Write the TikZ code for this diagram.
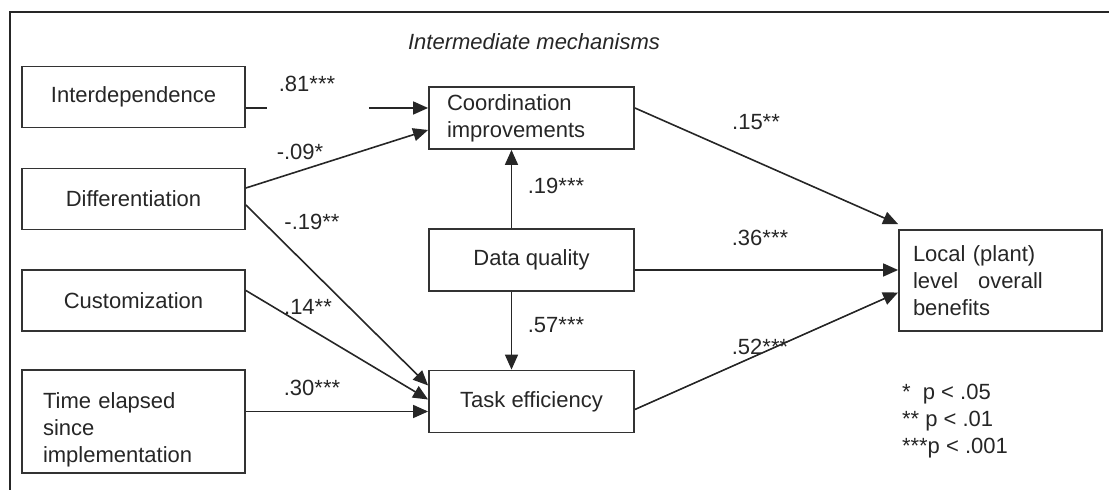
\documentclass[tikz,border=0pt]{standalone}
\usepackage{fontspec}
\setmainfont{Liberation Sans}
\usetikzlibrary{arrows.meta}

\begin{document}
\begin{tikzpicture}[
    x=0.5pt, y=-0.5pt,
    txt/.style={font=\fontsize{11}{13.5}\selectfont, text=black!85},
    box/.style={txt, draw=black!80, line width=0.9pt, inner sep=0pt},
    lbox/.style={box, minimum width=111.5pt, minimum height=30.5pt},
    mbox/.style={box, minimum width=102.5pt, minimum height=31pt},
    arr/.style={-{Triangle[length=7.5pt,width=6.5pt]}, line width=0.8pt, black!85},
    lbl/.style={txt},
]
\useasboundingbox (0,0) rectangle (1109,490);

% frame (top and left edge)
\draw[line width=1.3pt, black!85] (1109,12) -- (10,12) -- (10,490);

\node[txt, font=\fontsize{11}{13.5}\selectfont\itshape] (title) at (534,42)
    {Intermediate mechanisms};

% === Antecedents ===
\node[lbox] (interdep) at (133.5,97) {Interdependence};
\node[lbox] (diff) at (133.5,199) {Differentiation};
\node[lbox] (custom) at (133.5,300.5) {Customization};
\node[lbox, minimum height=51.5pt, align=left, text width=90.5pt,
    inner xsep=10.5pt] (time) at (133.5,421.5)
    {\rule{0pt}{16pt}Time elapsed\\since\\implementation};

% === Mechanisms ===
\node[mbox, align=left, text width=84.5pt, inner xsep=9pt] (coord)
    at (531.5,118) {Coordination\\improvements};
\node[mbox] (dq) at (531.5,260) {Data quality};
\node[mbox] (task) at (531.5,401.5) {Task efficiency};

% === Outcome ===
\node[box, minimum width=101.5pt, minimum height=50.5pt, align=left,
    text width=87.5pt, inner xsep=7pt] (local) at (1000.5,280.5)
    {Local (plant)\\level\hspace{0.9em}overall\\benefits};

% legend
\node[txt, align=left, anchor=north west] (legend) at (895,377)
    {*~ p < .05\\** p < .01\\***p < .001};

% === Paths ===
\draw[arr, dash pattern=on 10.5pt off 51pt on 80pt]
    ([yshift=-5.5pt]interdep.east) -- ([yshift=-5.5pt]interdep.east -| coord.west);
\draw[arr] ([yshift=5.5pt]diff.east) -- ([yshift=-6pt]coord.west);
\draw[arr] ([yshift=-3pt]diff.east) -- ([yshift=8pt]task.west);
\draw[arr] ([yshift=5pt]custom.east) -- ([yshift=1pt]task.west);
\draw[arr] ([yshift=5pt]time.east) -- ([yshift=5pt]time.east -| task.west);
\draw[arr] ([xshift=-10pt]dq.north) -- ([xshift=-10pt]coord.south);
\draw[arr] ([xshift=-10pt]dq.south) -- ([xshift=-10pt]task.north);
\draw[arr] ([yshift=5pt]coord.east) -- ([yshift=2.5pt]local.north west);
\draw[arr] ([yshift=-5pt]dq.east) -- ([yshift=-5pt]dq.east -| local.west);
\draw[arr] ([yshift=-4pt]task.east) -- ([yshift=-6pt]local.west);

% path coefficients
\node[lbl] (c81) at (307,84) {.81***};
\node[lbl] (c09) at (300,152) {-.09*};
\node[lbl] (c19a) at (312,222) {-.19**};
\node[lbl] (c14) at (308,307) {.14**};
\node[lbl] (c30) at (312,388) {.30***};
\node[lbl] (c19b) at (556,186) {.19***};
\node[lbl] (c57) at (556,325) {.57***};
\node[lbl] (c15) at (756,122) {.15**};
\node[lbl] (c36) at (760,238) {.36***};
\node[lbl] (c52) at (760,347) {.52***};

\end{tikzpicture}
\end{document}
